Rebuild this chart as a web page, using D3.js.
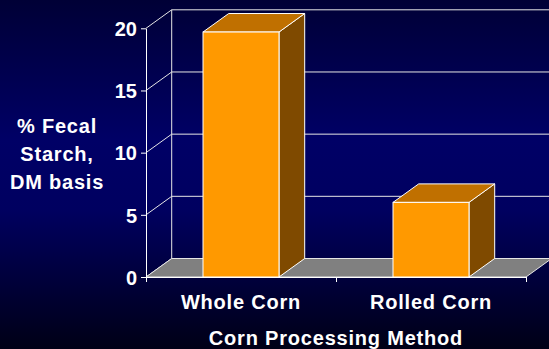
<!DOCTYPE html>
<html>
<head>
<meta charset="utf-8">
<script src="https://cdn.jsdelivr.net/npm/d3@7"></script>
<style>
html,body{margin:0;padding:0;background:#000040;}
svg{display:block;}
text{font-family:"Liberation Sans",Arial,sans-serif;font-weight:bold;fill:#fff;}
</style>
</head>
<body>
<script>
const categories = ["Whole Corn", "Rolled Corn"];
const values = [19.7, 6.0];
const yTicks = [0, 5, 10, 15, 20];
const yTitleLines = ["% Fecal", "Starch,", "DM basis"];
const xTitle = "Corn Processing Method";

const W = 549, H = 349;
const DX = 25.7, DY = -18.5;
const svg = d3.select("body").append("svg").attr("width", W).attr("height", H);

const defs = svg.append("defs");
const grad = defs.append("linearGradient").attr("id","bg").attr("x1",0).attr("y1",0).attr("x2",0).attr("y2",1);
grad.append("stop").attr("offset","0%").attr("stop-color","#000036");
grad.append("stop").attr("offset","40%").attr("stop-color","#000066");
grad.append("stop").attr("offset","60%").attr("stop-color","#000060");
grad.append("stop").attr("offset","100%").attr("stop-color","#000016");
svg.append("rect").attr("width",W).attr("height",H).attr("fill","url(#bg)");

const y = d3.scaleLinear().domain([0,20]).range([277, 28.3]);
const x0 = 146, x1 = 526;
const x = d3.scaleBand().domain(categories).range([x0,x1]).paddingInner(0.6).paddingOuter(0.3);
const xCat = d3.scaleBand().domain(categories).range([x0,x1]).padding(0);
const xEdge = d3.scaleLinear().domain([0, categories.length]).range([x0,x1]);

const grid = "#E6E6E6";
// back wall gridlines
svg.append("g").selectAll("line").data(yTicks).join("line")
  .attr("x1", x0+DX).attr("x2", x1+DX+10)
  .attr("y1", d=>y(d)+DY).attr("y2", d=>y(d)+DY)
  .attr("stroke", grid).attr("stroke-width",1);
// left wall diagonals
svg.append("g").selectAll("line").data(yTicks).join("line")
  .attr("x1", x0).attr("y1", d=>y(d))
  .attr("x2", x0+DX).attr("y2", d=>y(d)+DY)
  .attr("stroke", grid).attr("stroke-width",1);
// back vertical edge
svg.append("line").attr("x1",x0+DX).attr("x2",x0+DX)
  .attr("y1",y(20)+DY).attr("y2",y(0)+DY).attr("stroke",grid);

// floor
svg.append("polygon")
  .attr("points", [[x0,y(0)],[x1,y(0)],[x1+DX,y(0)+DY],[x0+DX,y(0)+DY]].map(p=>p.join(",")).join(" "))
  .attr("fill","#808080").attr("stroke",grid).attr("stroke-width",1);

// bars
const bars = svg.append("g").selectAll("g").data(categories.map((c,i)=>({c, v:values[i]}))).join("g");
bars.append("polygon") // side
  .attr("points", d=>{const xr=x(d.c)+x.bandwidth(), yt=y(d.v), yb=y(0);
    return [[xr,yb],[xr,yt],[xr+DX,yt+DY],[xr+DX,yb+DY]].map(p=>p.join(",")).join(" ");})
  .attr("fill","#7F4A00").attr("stroke","#fff").attr("stroke-width",1).attr("stroke-linejoin","round");
bars.append("polygon") // top
  .attr("points", d=>{const xl=x(d.c), xr=xl+x.bandwidth(), yt=y(d.v);
    return [[xl,yt],[xr,yt],[xr+DX,yt+DY],[xl+DX,yt+DY]].map(p=>p.join(",")).join(" ");})
  .attr("fill","#C07000").attr("stroke","#fff").attr("stroke-width",1).attr("stroke-linejoin","round");
bars.append("rect") // front
  .attr("x", d=>x(d.c)).attr("y", d=>y(d.v))
  .attr("width", x.bandwidth()).attr("height", d=>y(0)-y(d.v))
  .attr("fill","#FF9900").attr("stroke","#fff").attr("stroke-width",1);

// y axis
const yAxis = svg.append("g").attr("transform",`translate(${x0},0)`)
  .call(d3.axisLeft(y).tickValues(yTicks).tickSize(5).tickSizeOuter(0).tickPadding(4));
yAxis.selectAll("path,line").attr("stroke","#fff");
yAxis.selectAll("text").attr("font-size",20).attr("fill","#fff")
  .attr("font-family","Liberation Sans, Arial, sans-serif").attr("font-weight","bold").attr("dy","0.36em");

// x axis ticks
const xAxis = svg.append("g").attr("transform",`translate(0,${y(0)})`)
  .call(d3.axisBottom(xEdge).tickValues(d3.range(categories.length+1)).tickSize(5).tickSizeOuter(0).tickFormat(""));
xAxis.selectAll("path,line").attr("stroke","#fff");

// category labels
svg.append("g").selectAll("text").data(categories).join("text")
  .attr("x", d=>xCat(d)+xCat.bandwidth()/2).attr("y", 309)
  .attr("text-anchor","middle").attr("font-size",20).attr("letter-spacing","0.8px")
  .text(d=>d);

// x title
svg.append("text").attr("x", (x0+x1)/2).attr("y", 345)
  .attr("text-anchor","middle").attr("font-size",20).attr("letter-spacing","0.8px").text(xTitle);

// y title
svg.append("g").selectAll("text").data(yTitleLines).join("text")
  .attr("x", 57).attr("y", (d,i)=>133+i*28)
  .attr("text-anchor","middle").attr("font-size",20).attr("letter-spacing","0.8px")
  .text(d=>d);
</script>
</body>
</html>
